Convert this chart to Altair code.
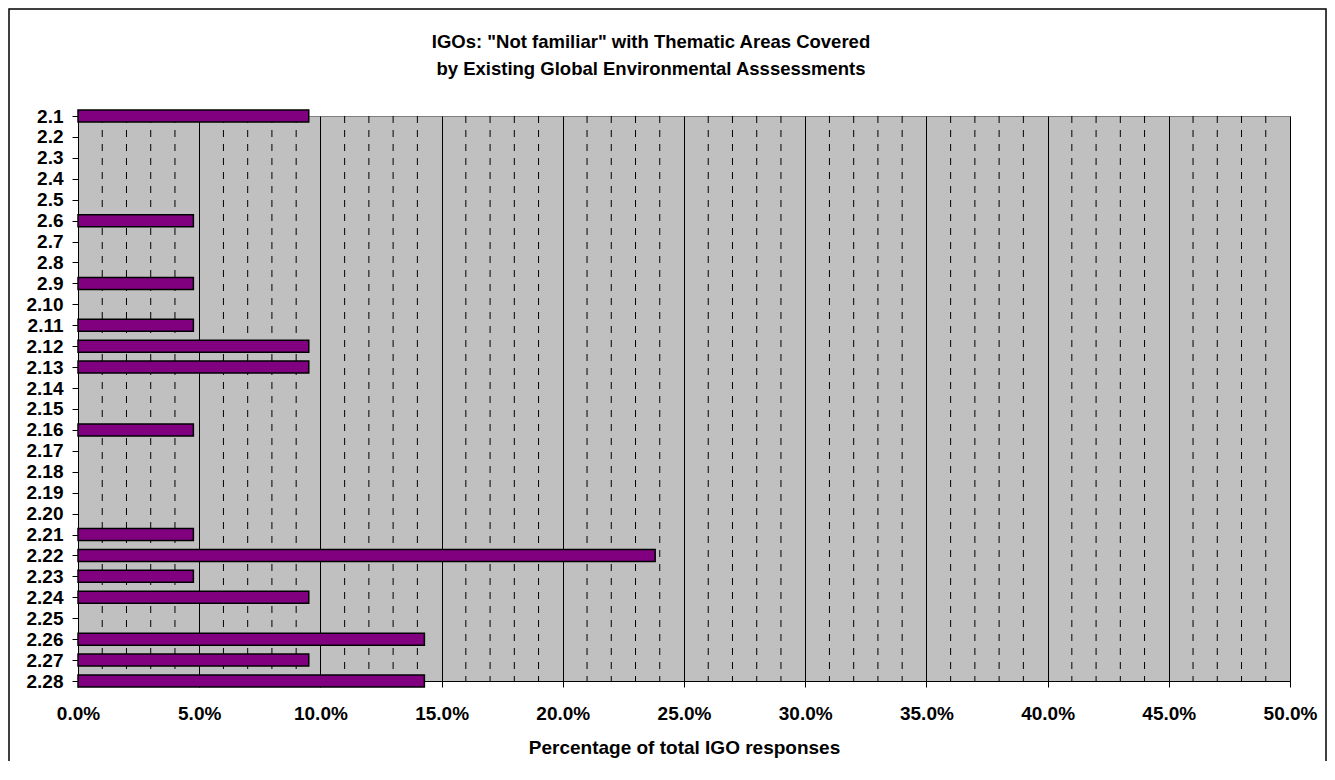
import altair as alt
import pandas as pd

categories = ["2.1", "2.2", "2.3", "2.4", "2.5", "2.6", "2.7", "2.8", "2.9", "2.10",
              "2.11", "2.12", "2.13", "2.14", "2.15", "2.16", "2.17", "2.18", "2.19", "2.20",
              "2.21", "2.22", "2.23", "2.24", "2.25", "2.26", "2.27", "2.28"]
values_pct = [9.52, 0, 0, 0, 0, 4.76, 0, 0, 4.76, 0,
              4.76, 9.52, 9.52, 0, 0, 4.76, 0, 0, 0, 0,
              4.76, 23.81, 4.76, 9.52, 0, 14.29, 9.52, 14.29]
major_ticks_pct = [0, 5, 10, 15, 20, 25, 30, 35, 40, 45, 50]
minor_ticks_pct = [1, 2, 3, 4, 6, 7, 8, 9, 11, 12, 13, 14, 16, 17, 18, 19,
                   21, 22, 23, 24, 26, 27, 28, 29, 31, 32, 33, 34, 36, 37, 38, 39,
                   41, 42, 43, 44, 46, 47, 48, 49]
title_lines = ['IGOs: "Not familiar" with Thematic Areas Covered',
               "by Existing Global Environmental Asssessments"]

df = pd.DataFrame({"cat": categories, "share": [v / 100 for v in values_pct]})
df = df[df["share"] > 0]
minor_df = pd.DataFrame({"g": [v / 100 for v in minor_ticks_pct]})

FONT = "Liberation Sans"
W, H = 1212, 565

xscale = alt.Scale(domain=[0, 0.5], nice=False, zero=True)
yscale = alt.Scale(type="point", padding=0, domain=categories)

xaxis = alt.Axis(values=[v / 100 for v in major_ticks_pct], format=".1%",
                 title="Percentage of total IGO responses",
                 grid=True, gridColor="#000000", gridWidth=1,
                 tickSize=6, tickColor="black", domainColor="black",
                 labelPadding=17, titlePadding=15, labelFlush=False,
                 labelOverlap=False,
                 labelFontSize=19, labelFontWeight="bold", labelColor="black",
                 titleFontSize=19, titleFontWeight="bold", titleColor="black",
                 labelFont=FONT, titleFont=FONT)

minor = alt.Chart(minor_df).mark_rule(
    color="black", strokeWidth=1, strokeDash=[7, 7]
).encode(x=alt.X("g:Q", scale=xscale, axis=xaxis))

bars = alt.Chart(df).mark_bar(
    size=12, color="#800080", stroke="black", strokeWidth=1.5, orient="horizontal"
).encode(
    x=alt.X("share:Q", scale=xscale, axis=xaxis),
    y=alt.Y("cat:O", scale=yscale,
            axis=alt.Axis(title=None, grid=False, tickSize=6, tickColor="black",
                          domainColor="black", labelPadding=9, labelOverlap=False,
                          labelFontSize=19, labelFontWeight="bold", labelColor="black",
                          labelFont=FONT)),
)

title_df = pd.DataFrame({"line": title_lines, "row": [0, 1]})
title = alt.Chart(title_df).mark_text(
    font=FONT, fontSize=18.5, fontWeight="bold", color="black",
    align="center", baseline="alphabetic"
).encode(
    text="line:N",
    x=alt.value(573),
    y=alt.YValue({"expr": "datum.row == 0 ? -68 : -41"}),
)

border = alt.Chart(pd.DataFrame({"a": [0]})).mark_rect(
    filled=False, stroke="black", strokeWidth=1.5
).encode(x=alt.value(-69), x2=alt.value(1248), y=alt.value(-107), y2=alt.value(700))

chart = alt.layer(minor, bars, title, border).properties(
    width=W, height=H,
    autosize=alt.AutoSizeParams(type="none"),
    padding={"left": 70, "top": 108, "right": 37, "bottom": 80},
).configure_view(
    fill="#C0C0C0", stroke="#808080", strokeWidth=1
)

chart.save("out.html", embed_options={"renderer": "svg", "actions": False})
